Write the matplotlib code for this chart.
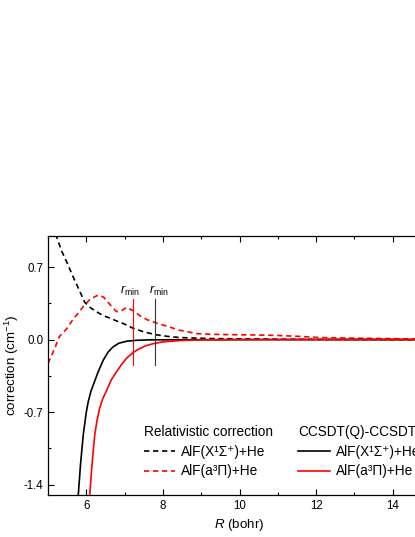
import numpy as np
import matplotlib
matplotlib.use('Agg')
import matplotlib.pyplot as plt
from matplotlib.ticker import MultipleLocator, FixedLocator

plt.rcParams['font.family'] = ['Liberation Sans', 'DejaVu Sans']
plt.rcParams['mathtext.fontset'] = 'custom'
plt.rcParams['mathtext.rm'] = 'Liberation Sans'
plt.rcParams['mathtext.it'] = 'Liberation Sans:italic'
plt.rcParams['axes.unicode_minus'] = False

# Relativistic correction, AlF(X)+He
rel_x_R = [5.2, 5.35, 5.5, 5.65, 5.8, 5.96, 6.1, 6.26, 6.45, 6.6, 6.79, 7.0, 7.22, 7.5, 7.8, 8.1, 8.44, 8.9, 9.3, 10.0, 11.0, 12.0, 13.0, 14.0, 15.0]
rel_x_V = [1.02, 0.86, 0.74, 0.61, 0.49, 0.36, 0.31, 0.27, 0.23, 0.21, 0.18, 0.15, 0.11, 0.075, 0.048, 0.032, 0.02, 0.014, 0.01, 0.007, 0.004, 0.002, 0.001, 0.0, 0.0]

# Relativistic correction, AlF(a)+He
rel_a_R = [5.0, 5.1, 5.18, 5.3, 5.5, 5.66, 5.8, 5.92, 6.1, 6.31, 6.45, 6.57, 6.68, 6.79, 6.92, 7.05, 7.22, 7.4, 7.6, 7.83, 8.1, 8.44, 8.88, 9.2, 9.75, 10.5, 11.0, 11.5, 12.1, 13.0, 13.7, 14.5, 15.0]
rel_a_V = [-0.23, -0.15, -0.08, 0.03, 0.11, 0.2, 0.26, 0.32, 0.39, 0.43, 0.41, 0.36, 0.31, 0.27, 0.28, 0.31, 0.28, 0.23, 0.19, 0.16, 0.13, 0.09, 0.058, 0.052, 0.048, 0.044, 0.04, 0.032, 0.02, 0.014, 0.01, 0.006, 0.005]

# CCSDT(Q)-CCSDT, AlF(X)+He
cc_x_R = [5.79, 5.85, 5.92, 6.0, 6.05, 6.12, 6.18, 6.3, 6.44, 6.57, 6.7, 6.85, 7.05, 7.3, 7.6, 8.0, 9.0, 10.0, 12.0, 15.0]
cc_x_V = [-1.5, -1.2, -0.92, -0.7, -0.6, -0.5, -0.44, -0.32, -0.2, -0.12, -0.07, -0.035, -0.016, -0.007, -0.003, -0.002, -0.001, 0.0, 0.0, 0.0]

# CCSDT(Q)-CCSDT, AlF(a)+He
cc_a_R = [6.09, 6.15, 6.22, 6.28, 6.35, 6.43, 6.52, 6.65, 6.79, 6.92, 7.05, 7.22, 7.39, 7.55, 7.74, 8.0, 8.5, 9.0, 10.0, 11.0, 15.0]
cc_a_V = [-1.5, -1.2, -0.92, -0.78, -0.66, -0.57, -0.5, -0.39, -0.31, -0.24, -0.18, -0.125, -0.087, -0.06, -0.04, -0.022, -0.008, -0.003, -0.001, 0.0, 0.0]

# r_min markers
rmin_R = [7.22, 7.80]
rmin_colors = ['red', '#333333']
rmin_label_R = [7.15, 7.90]

fig = plt.figure(figsize=(4.15, 5.37), dpi=100)
ax = fig.add_axes([48 / 415, 42 / 537, 383 / 415, 259 / 537])

fs_tick = 8.3
fs_lab = 9.6
fs_leg = 9.8
dash = (3.2, 2.2)
l1, = ax.plot(rel_x_R, rel_x_V, color='black', lw=1.2, dashes=dash)
l2, = ax.plot(rel_a_R, rel_a_V, color='red', lw=1.2, dashes=dash)
l3, = ax.plot(cc_x_R, cc_x_V, color='black', lw=1.2)
l4, = ax.plot(cc_a_R, cc_a_V, color='red', lw=1.2)

for r, c, rl in zip(rmin_R, rmin_colors, rmin_label_R):
    ax.plot([r, r], [-0.25, 0.39], color=c, lw=0.8)
    ax.text(rl, 0.47, r'$r_{\rm min}$', ha='center', va='center', fontsize=9)

ax.set_xlim(5, 15)
ax.set_ylim(-1.5, 1.0)
ax.xaxis.set_major_locator(MultipleLocator(2))
ax.xaxis.set_minor_locator(MultipleLocator(1))
ax.yaxis.set_major_locator(FixedLocator([-1.4, -0.7, 0.0, 0.7]))
ax.yaxis.set_minor_locator(FixedLocator([-1.05, -0.35, 0.35]))
ax.set_yticklabels(['-1.4', '-0.7', '0.0', '0.7'])
ax.tick_params(which='both', direction='in', top=True, right=True, labelsize=fs_tick)
ax.tick_params(which='major', length=4, width=0.8)
ax.tick_params(which='minor', length=2.5, width=0.8)
for s in ax.spines.values():
    s.set_linewidth(0.9)

ax.set_xlabel(r'$R$ (bohr)', fontsize=fs_lab, labelpad=4)
ax.set_ylabel(r'correction (cm$^{-1}$)', fontsize=fs_lab, labelpad=2)

labels = ['AlF(X¹Σ⁺)+He', 'AlF(a³Π)+He']
leg_kw = dict(loc='upper left', frameon=False, fontsize=fs_leg, title_fontsize=fs_leg,
              handlelength=2.3, handletextpad=0.45, borderpad=0, labelspacing=0.4,
              alignment='left')
leg1 = ax.legend([l1, l2], labels, title='Relativistic correction',
                 bbox_to_anchor=(0.232, 0.295), **leg_kw)
ax.add_artist(leg1)
ax.legend([l3, l4], labels, title='CCSDT(Q)-CCSDT',
          bbox_to_anchor=(0.636, 0.295), **leg_kw)

fig.savefig('out.png', dpi=100)
